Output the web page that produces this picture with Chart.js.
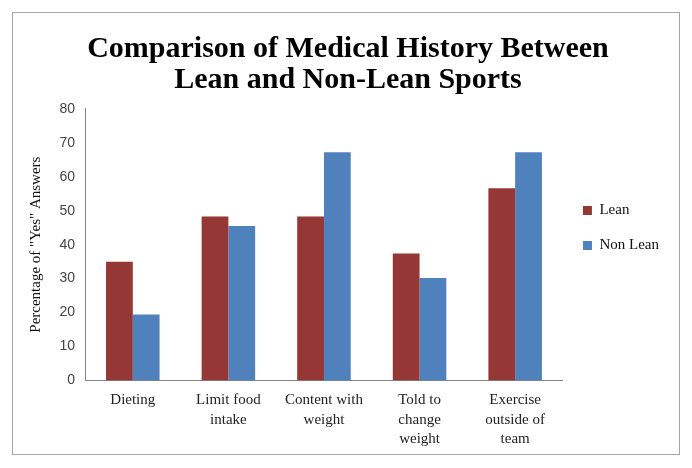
<!DOCTYPE html>
<html>
<head>
<meta charset="utf-8">
<script src="https://cdn.jsdelivr.net/npm/chart.js@4"></script>
<style>
  body { margin: 0; background: #fff; }
  #box {
    position: absolute; left: 12px; top: 12px;
    width: 666px; height: 441px;
    border: 1px solid #a6a6a6;
    background: #fff;
  }
</style>
</head>
<body>
<div id="box"><canvas id="myChart" width="666" height="441"></canvas></div>
<script>
(function () {
  'use strict'

  // chart data
  var categories = [
    'Dieting',
    ['Limit food', 'intake'],
    ['Content with', 'weight'],
    ['Told to', 'change', 'weight'],
    ['Exercise', 'outside of', 'team']
  ]
  var leanValues = [35, 48.3, 48.3, 37.4, 56.6]
  var nonLeanValues = [19.4, 45.5, 67.2, 30.2, 67.2]
  var titleLines = ['Comparison of Medical History Between', 'Lean and Non-Lean Sports']

  var serif = "'Liberation Serif', 'DejaVu Serif', serif"

  // nudge the legend a little above the plot centre, like the original
  var legendShift = {
    id: 'legendShift',
    afterLayout: function (chart) {
      chart.legend.top -= 13
      chart.legend.bottom -= 13
    }
  }

  var ctx = document.getElementById('myChart')
  const config = {
    type: 'bar',
    data: {
      labels: categories,
      datasets: [{
        label: 'Lean',
        data: leanValues,
        backgroundColor: '#953735',
        borderWidth: 0
      }, {
        label: 'Non Lean',
        data: nonLeanValues,
        backgroundColor: '#4f81bd',
        borderWidth: 0
      }]
    },
    options: {
      responsive: false,
      animation: false,
      categoryPercentage: 0.56,
      barPercentage: 1,
      layout: { padding: { left: 14, right: 10, top: 10, bottom: -5 } },
      scales: {
        x: {
          grid: { display: false, drawTicks: false },
          border: { color: '#868686', width: 1 },
          ticks: {
            color: '#222',
            padding: 10,
            maxRotation: 0,
            autoSkip: false,
            font: { family: serif, size: 15, lineHeight: 1.3 }
          }
        },
        y: {
          min: 0,
          max: 80,
          afterFit: function (scale) { scale.width = 58 },
          grid: { display: false, drawOnChartArea: false, drawTicks: true, tickLength: 6, color: '#868686' },
          border: { color: '#868686', width: 1 },
          ticks: {
            stepSize: 10,
            color: '#444',
            padding: 4,
            font: { family: "'Liberation Sans', Arial, sans-serif", size: 14 }
          },
          title: {
            display: true,
            text: 'Percentage of "Yes" Answers',
            color: '#111',
            padding: { top: 0, bottom: 4 },
            font: { family: serif, size: 15 }
          }
        }
      },
      plugins: {
        title: {
          display: true,
          text: titleLines,
          color: '#000',
          padding: { top: 11, bottom: 13 },
          font: { family: serif, size: 30, weight: 'bold', lineHeight: 1.03 }
        },
        legend: {
          position: 'right',
          align: 'center',
          labels: {
            color: '#111',
            boxWidth: 9,
            boxHeight: 9,
            padding: 20,
            font: { family: serif, size: 15 }
          }
        },
        tooltip: { enabled: false }
      }
    },
    plugins: [legendShift]
  }
  var barChart = new Chart(ctx, config)
})()
</script>
</body>
</html>
